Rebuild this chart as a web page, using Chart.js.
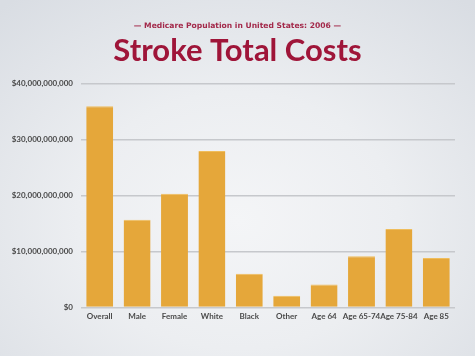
<!DOCTYPE html>
<html><head><meta charset="utf-8">
<script src="https://cdn.jsdelivr.net/npm/chart.js@4.4.1/dist/chart.umd.min.js"></script>
<style>
html,body{margin:0;padding:0;}
body{width:475px;height:356px;overflow:hidden;background:radial-gradient(ellipse 75% 80% at 50% 62%, #f4f5f7 0%, #eceef1 45%, #d9dde3 100%);}
#wrap{position:absolute;left:0;top:0;width:475px;height:356px;}
</style></head><body>
<div id="wrap"><canvas id="c" width="475" height="356"></canvas></div>
<script>
const categories = ["Overall","Male","Female","White","Black","Other","Age 64","Age 65-74","Age 75-84","Age 85"];
const costs = [35900000000,15650000000,20300000000,27900000000,6000000000,2060000000,4100000000,9150000000,14000000000,8800000000];
const yTicks = [0,10000000000,20000000000,30000000000,40000000000];
const subtitleText = "\u2014 Medicare Population in United States: 2006 \u2014";
const titleText = "Stroke Total Costs";

function fmt(v){ return "$" + Math.round(v).toLocaleString("en-US"); }

new Chart(document.getElementById("c"), {
  type: "bar",
  data: {
    labels: categories,
    datasets: [{
      data: costs,
      backgroundColor: "#e5a73a",
      borderColor: "#efbd5c",
      borderWidth: {top:1, left:0, right:0, bottom:0},
      borderSkipped: "bottom",
      categoryPercentage: 1,
      barPercentage: 0.72
    }]
  },
  options: {
    responsive: false,
    animation: false,
    devicePixelRatio: 1,
    layout: { padding: { left: 4, right: 4, top: 0, bottom: 31 } },
    plugins: {
      legend: { display: false },
      tooltip: { enabled: false },
      title: {
        display: true, text: subtitleText, color: "#a3294a",
        font: { family: "DejaVu Sans", size: 7.6, weight: "bold" },
        padding: { top: 21, bottom: 0 }
      },
      subtitle: {
        display: true, text: titleText, color: "#9f1539",
        font: { family: "Lato", size: 31, weight: "bold" },
        padding: { top: 2, bottom: 14 }
      }
    },
    scales: {
      x: {
        grid: { display: false, drawTicks: false },
        border: { display: false },
        ticks: { color: "#4a4a4a", font: { family: "Lato", size: 8, weight: "bold" }, padding: 4, maxRotation: 0, autoSkip: false }
      },
      y: {
        min: 0, max: 40000000000,
        afterBuildTicks: s => { s.ticks = yTicks.map(v => ({value: v})); },
        afterFit: s => { s.width = 77; },
        grid: { color: "#c6c8cc", lineWidth: 1.5, drawTicks: false },
        border: { display: false },
        ticks: { color: "#4a4a4a", font: { family: "Lato", size: 8, weight: "bold" }, padding: 8, callback: v => fmt(v) }
      },
      yRight: {
        position: "right",
        min: 0, max: 40000000000,
        afterFit: s => { s.width = 16; },
        grid: { display: false, drawTicks: false },
        border: { display: false },
        ticks: { display: false }
      }
    }
  }
});
</script>
</body></html>
